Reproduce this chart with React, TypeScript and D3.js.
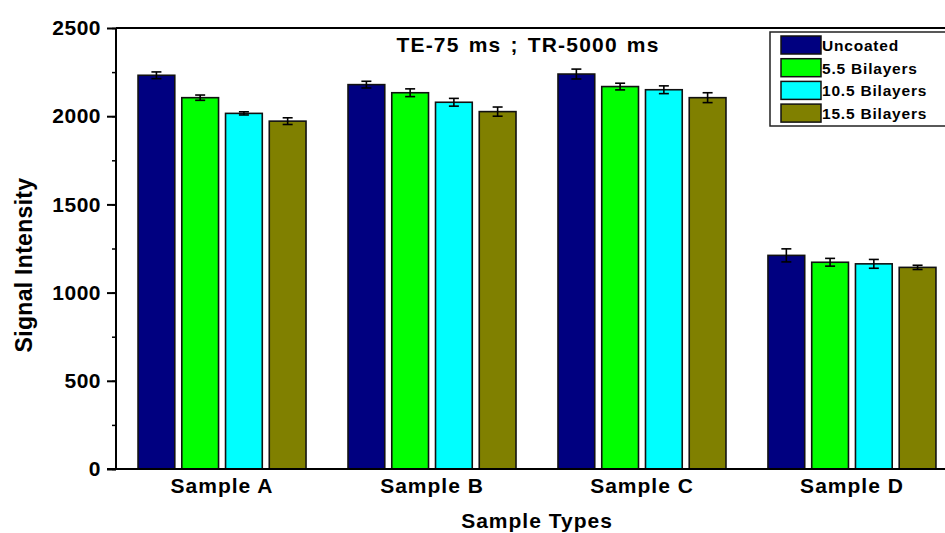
import React, { useEffect, useRef } from "react";
import * as d3 from "d3";

const groups = ["Sample A", "Sample B", "Sample C", "Sample D"];
const subGroups = ["Uncoated", "5.5 Bilayers", "10.5 Bilayers", "15.5 Bilayers"];
const colors = ["#000080", "#00ff00", "#00ffff", "#808000"];

// mean values per sample (rows) and coating (columns)
const uncoated = [2232, 2179, 2239, 1211];
const bilayer55 = [2105, 2133, 2168, 1172];
const bilayer105 = [2016, 2079, 2150, 1163];
const bilayer155 = [1972, 2026, 2105, 1143];

// standard errors
const errUncoated = [19, 19, 28, 37];
const errB55 = [15, 22, 19, 22];
const errB105 = [9, 22, 22, 25];
const errB155 = [19, 26, 28, 12];

const yTicks = [0, 500, 1000, 1500, 2000, 2500];

const W = 945;
const H = 533;
const FONT = "Arial, 'Liberation Sans', Helvetica, sans-serif";

export default function App() {
  const ref = useRef<SVGSVGElement>(null);

  useEffect(() => {
    const svg = d3.select(ref.current);
    svg.selectAll("*").remove();

    const margin = { left: 116, top: 28, bottom: 469 };
    const values = [uncoated, bilayer55, bilayer105, bilayer155];
    const errors = [errUncoated, errB55, errB105, errB155];

    const x = d3
      .scaleBand()
      .domain(groups)
      .range([margin.left, 958])
      .paddingInner(0.2)
      .paddingOuter(0.105);

    const xSub = d3
      .scaleBand()
      .domain(subGroups)
      .range([0, x.bandwidth()])
      .paddingInner(0.16);

    const y = d3.scaleLinear().domain([0, 2500]).range([margin.bottom, margin.top]);

    const data = groups.flatMap((g, gi) =>
      subGroups.map((s, si) => ({
        group: g,
        sub: s,
        color: colors[si],
        value: values[si][gi],
        err: errors[si][gi],
      }))
    );

    // bars
    const bar = svg
      .append("g")
      .selectAll("g")
      .data(data)
      .enter()
      .append("g")
      .attr("transform", (d) => `translate(${x(d.group)! + xSub(d.sub)!},0)`);

    bar
      .append("rect")
      .attr("x", 0)
      .attr("y", (d) => y(d.value))
      .attr("width", xSub.bandwidth())
      .attr("height", (d) => y(0) - y(d.value))
      .attr("fill", (d) => d.color)
      .attr("stroke", "#111")
      .attr("stroke-width", 1.6);

    // error bars
    const cx = xSub.bandwidth() / 2;
    const eb = bar.append("g").attr("stroke", "#000").attr("stroke-width", 1.6);
    eb.append("line")
      .attr("x1", cx)
      .attr("x2", cx)
      .attr("y1", (d) => y(d.value + d.err))
      .attr("y2", (d) => y(d.value - d.err));
    eb.append("line")
      .attr("x1", cx - 5)
      .attr("x2", cx + 5)
      .attr("y1", (d) => y(d.value + d.err))
      .attr("y2", (d) => y(d.value + d.err));
    eb.append("line")
      .attr("x1", cx - 5)
      .attr("x2", cx + 5)
      .attr("y1", (d) => y(d.value - d.err))
      .attr("y2", (d) => y(d.value - d.err));

    // frame: top line
    svg
      .append("line")
      .attr("x1", margin.left)
      .attr("x2", W)
      .attr("y1", y(2500))
      .attr("y2", y(2500))
      .attr("stroke", "#000")
      .attr("stroke-width", 2);

    // y axis
    const yAxis = svg.append("g").attr("transform", `translate(${margin.left},0)`);
    yAxis
      .call(
        d3
          .axisLeft(y)
          .tickValues(d3.range(0, 2501, 250))
          .tickSize(4)
          .tickFormat(() => "")
      )
      .call((g) => g.select(".domain").remove());
    yAxis.selectAll("line").attr("stroke-width", 1.5);
    yAxis
      .append("g")
      .call(d3.axisLeft(y).tickValues(yTicks).tickSize(9).tickPadding(6).tickFormat(d3.format("d")))
      .call((g) => g.select(".domain").remove())
      .call((g) =>
        g
          .selectAll("text")
          .attr("fill", "#000")
          .attr("font-family", FONT)
          .attr("font-size", 21)
          .attr("font-weight", "bold")
          .attr("letter-spacing", 0.5)
      )
      .call((g) => g.selectAll("line").attr("stroke-width", 2));
    yAxis
      .append("line")
      .attr("x1", 0)
      .attr("x2", 0)
      .attr("y1", y(2500))
      .attr("y2", y(0))
      .attr("stroke", "#000")
      .attr("stroke-width", 2);

    // x axis
    const xAxis = svg.append("g").attr("transform", `translate(0,${margin.bottom})`);
    xAxis
      .call(d3.axisBottom(x).tickSize(0).tickPadding(9))
      .call((g) => g.select(".domain").remove())
      .call((g) =>
        g
          .selectAll("text")
          .attr("fill", "#000")
          .attr("font-family", FONT)
          .attr("font-size", 21)
          .attr("font-weight", "bold")
          .attr("letter-spacing", 1)
      );
    xAxis
      .append("line")
      .attr("x1", margin.left - 9)
      .attr("x2", W)
      .attr("stroke", "#000")
      .attr("stroke-width", 2);

    // axis titles
    svg
      .append("text")
      .attr("x", 537)
      .attr("y", 528)
      .attr("text-anchor", "middle")
      .attr("font-family", FONT)
      .attr("font-size", 21)
      .attr("font-weight", "bold")
      .attr("letter-spacing", 1)
      .text("Sample Types");

    svg
      .append("text")
      .attr("transform", `translate(32,265) rotate(-90)`)
      .attr("text-anchor", "middle")
      .attr("font-family", FONT)
      .attr("font-size", 23)
      .attr("font-weight", "bold")
      .attr("letter-spacing", 0.3)
      .text("Signal Intensity");

    // title
    svg
      .append("text")
      .attr("x", 528)
      .attr("y", 52)
      .attr("text-anchor", "middle")
      .attr("font-family", FONT)
      .attr("font-size", 21)
      .attr("font-weight", "bold")
      .attr("letter-spacing", 1.2)
      .attr("word-spacing", 2)
      .text("TE-75 ms ;  TR-5000 ms");

    // legend
    const legend = svg.append("g").attr("transform", "translate(770,32)");
    legend
      .append("rect")
      .attr("width", 190)
      .attr("height", 94)
      .attr("fill", "#fff")
      .attr("stroke", "#222")
      .attr("stroke-width", 1.5);
    const item = legend
      .selectAll("g")
      .data(subGroups)
      .enter()
      .append("g")
      .attr("transform", (d, i) => `translate(11,${4 + i * 22.7})`);
    item
      .append("rect")
      .attr("width", 40)
      .attr("height", 18)
      .attr("fill", (d, i) => colors[i])
      .attr("stroke", "#111")
      .attr("stroke-width", 1.5);
    item
      .append("text")
      .attr("x", 41)
      .attr("y", 15)
      .attr("font-family", FONT)
      .attr("font-size", 15.5)
      .attr("font-weight", "bold")
      .attr("letter-spacing", 0.8)
      .text((d) => d);
  }, []);

  return (
    <svg
      ref={ref}
      width={W}
      height={H}
      style={{ display: "block", position: "absolute", left: 0, top: 0, background: "#fff" }}
    />
  );
}
